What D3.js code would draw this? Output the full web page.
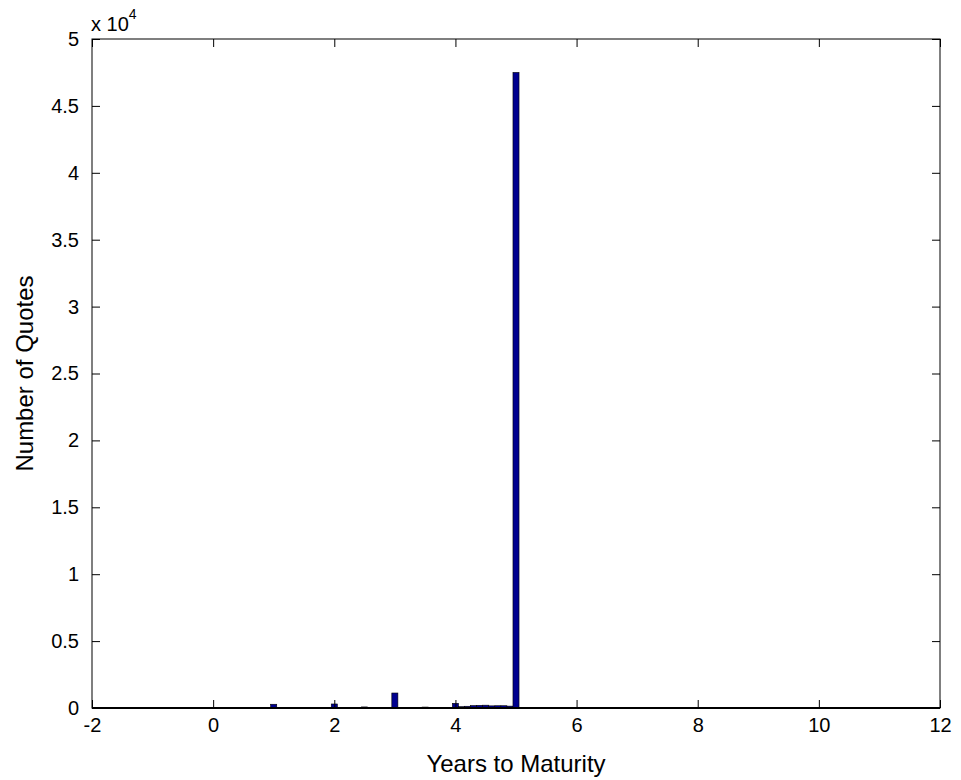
<!DOCTYPE html>
<html>
<head>
<meta charset="utf-8">
<script src="https://cdn.jsdelivr.net/npm/d3@7"></script>
<style>
  html, body { margin: 0; padding: 0; background: #fff; }
  svg { display: block; font-family: "Liberation Sans", Arial, sans-serif; }
</style>
</head>
<body>
<svg id="chart" width="961" height="780"></svg>
<script>
// histogram bins (bin centre in years, count of quotes), bin width 0.1
const binCenters = [0.5, 1.0, 1.2, 1.3, 1.5, 1.6, 1.8, 1.9, 2.0, 2.1, 2.2, 2.3, 2.5, 2.6, 2.8,
  3.0, 3.2, 3.3, 3.5, 3.7, 3.8, 3.9, 4.0, 4.1, 4.2, 4.3, 4.4, 4.5, 4.6, 4.7, 4.8, 4.9,
  5.0, 5.1, 5.5, 5.6, 6.2, 7.0, 7.3, 10.0]
const binCounts = [20, 280, 10, 15, 20, 20, 15, 20, 300, 20, 20, 15, 80, 40, 40,
  1120, 20, 25, 70, 30, 40, 50, 350, 100, 130, 180, 200, 210, 160, 170, 170, 140,
  47500, 20, 15, 15, 10, 40, 10, 40]
const binWidth = 0.1

const xTicks = [-2, 0, 2, 4, 6, 8, 10, 12]
const yTicks = [0, 0.5, 1, 1.5, 2, 2.5, 3, 3.5, 4, 4.5, 5]   // x 10^4
const yScaleExp = 4

const bins = binCenters.map((c, i) => ({x: c, n: binCounts[i]}))

const svg = d3.select("#chart")
const m = {left: 92, right: 940, top: 39, bottom: 708}
const tickFont = 20

const x = d3.scaleLinear().domain([-2, 12]).range([m.left, m.right])
const y = d3.scaleLinear().domain([0, 5]).range([m.bottom, m.top])

const g = svg.append("g")

// bars
g.selectAll("rect.bar")
  .data(bins)
  .join("rect")
  .attr("class", "bar")
  .attr("x", d => x(d.x - binWidth / 2))
  .attr("width", d => x(d.x + binWidth / 2) - x(d.x - binWidth / 2))
  .attr("y", d => y(d.n / Math.pow(10, yScaleExp)))
  .attr("height", d => m.bottom - y(d.n / Math.pow(10, yScaleExp)))
  .attr("fill", "#00008f")
  .attr("stroke", "#000")
  .attr("stroke-width", 0.6)

// axes with inward ticks (matlab style)
const tickLen = 8
const xAxisB = d3.axisBottom(x).tickValues(xTicks).tickSizeInner(-tickLen).tickSizeOuter(0).tickPadding(tickLen + 2)
  .tickFormat(d => String(d))
const xAxisT = d3.axisTop(x).tickValues(xTicks).tickSizeInner(-tickLen).tickSizeOuter(0).tickFormat("")
const yAxisL = d3.axisLeft(y).tickValues(yTicks).tickSizeInner(-tickLen).tickSizeOuter(0).tickPadding(tickLen + 5)
  .tickFormat(d => String(d))
const yAxisR = d3.axisRight(y).tickValues(yTicks).tickSizeInner(-tickLen).tickSizeOuter(0).tickFormat("")

const styleAxis = sel => {
  sel.select(".domain").remove()
  sel.selectAll("line").attr("stroke", "#000").attr("stroke-width", 1)
  sel.selectAll("text").attr("fill", "#000").attr("font-size", tickFont)
    .attr("font-family", "'Liberation Sans', Arial, sans-serif")
}

g.append("g").attr("transform", `translate(0,${m.bottom})`).call(xAxisB).call(styleAxis)
g.append("g").attr("transform", `translate(0,${m.top})`).call(xAxisT).call(styleAxis)
g.append("g").attr("transform", `translate(${m.left},0)`).call(yAxisL).call(styleAxis)
g.append("g").attr("transform", `translate(${m.right},0)`).call(yAxisR).call(styleAxis)

// box
g.append("rect")
  .attr("x", m.left).attr("y", m.top)
  .attr("width", m.right - m.left).attr("height", m.bottom - m.top)
  .attr("fill", "none").attr("stroke", "#000").attr("stroke-width", 1)
g.append("line")
  .attr("x1", m.left).attr("x2", m.right).attr("y1", m.bottom).attr("y2", m.bottom)
  .attr("stroke", "#000").attr("stroke-width", 2)

// exponent label
const expo = svg.append("text")
  .attr("x", m.left - 1).attr("y", m.top - 8)
  .attr("font-size", tickFont).attr("fill", "#000")
expo.append("tspan").text("x 10")
expo.append("tspan").attr("font-size", 14).attr("dy", -12).text(String(yScaleExp))

// axis titles
svg.append("text")
  .attr("x", (m.left + m.right) / 2).attr("y", 772)
  .attr("text-anchor", "middle").attr("font-size", 24).attr("fill", "#000")
  .text("Years to Maturity")

svg.append("text")
  .attr("transform", `translate(33,${(m.top + m.bottom) / 2}) rotate(-90)`)
  .attr("text-anchor", "middle").attr("font-size", 24).attr("fill", "#000")
  .text("Number of Quotes")
</script>
</body>
</html>
